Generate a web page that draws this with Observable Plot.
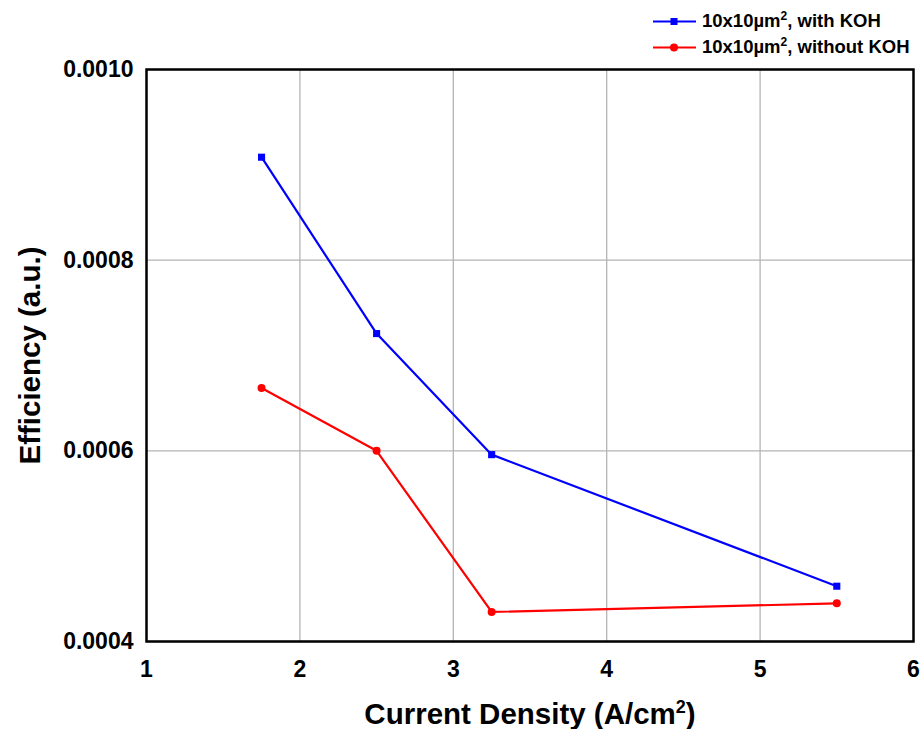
<!DOCTYPE html>
<html>
<head>
<meta charset="utf-8">
<script src="https://cdn.jsdelivr.net/npm/d3@7"></script>
<script src="https://cdn.jsdelivr.net/npm/@observablehq/plot@0.6"></script>
<style>
  html, body { margin: 0; padding: 0; background: #fff; }
  body { width: 920px; height: 729px; overflow: hidden; font-family: "Liberation Sans", Arial, sans-serif; }
  #legend { position: relative; height: 59px; width: 920px; }
  .leg-row { position: absolute; left: 652px; height: 22px; line-height: 22px; display: flex; align-items: center; font-weight: bold; font-size: 18.5px; color: #000; white-space: nowrap; }
  .leg-row svg { margin-right: 5px; }
  #chart svg [aria-label="x-axis label"] text,
  #chart svg [aria-label="y-axis label"] text { font-size: 29.5px; font-weight: bold; }
</style>
</head>
<body>
<div id="legend"></div>
<div id="chart"></div>
<script>
const xValues = [1.75, 2.5, 3.25, 5.5];
const withKOH = [0.000908, 0.000723, 0.000596, 0.000458];
const withoutKOH = [0.000666, 0.0006, 0.000431, 0.00044];
const seriesNames = ["10x10µm², with KOH", "10x10µm², without KOH"];
const seriesColors = ["#0000ff", "#ff0000"];
const xTicks = [1, 2, 3, 4, 5, 6];
const yTicks = [0.0004, 0.0006, 0.0008, 0.0010];
const xLabel = "Current Density (A/cm²)";
const yLabel = "Efficiency (a.u.)";

const dataA = xValues.map((x, i) => ({x, y: withKOH[i]}));
const dataB = xValues.map((x, i) => ({x, y: withoutKOH[i]}));

// legend
const legend = document.getElementById("legend");
seriesNames.forEach((name, i) => {
  const row = document.createElement("div");
  row.className = "leg-row";
  row.style.top = (i === 0 ? 10 : 36) + "px";
  const marker = i === 0
    ? `<rect x="18.5" y="3" width="7" height="7" fill="${seriesColors[i]}"/>`
    : `<circle cx="22" cy="6.5" r="4" fill="${seriesColors[i]}"/>`;
  row.innerHTML = `<svg width="45" height="13"><line x1="1" x2="44" y1="6.5" y2="6.5" stroke="${seriesColors[i]}" stroke-width="2.2"/>${marker}</svg><span>${name.replace("²", "<sup style='font-size:12px;vertical-align:7px;line-height:0'>2</sup>")}</span>`;
  legend.appendChild(row);
});

const chart = Plot.plot({
  width: 920,
  height: 670,
  marginTop: 10,
  marginLeft: 146,
  marginRight: 7,
  marginBottom: 88,
  style: {fontFamily: "'Liberation Sans', Arial, sans-serif", fontWeight: "bold", fontSize: "23px", color: "#000", background: "#fff", overflow: "visible"},
  x: {domain: [1, 6]},
  y: {domain: [0.0004, 0.0010]},
  marks: [
    Plot.gridX(xTicks, {stroke: "#b4b4b4", strokeOpacity: 1, strokeWidth: 1.3}),
    Plot.gridY(yTicks, {stroke: "#b4b4b4", strokeOpacity: 1, strokeWidth: 1.3}),
    Plot.line(dataA, {x: "x", y: "y", stroke: seriesColors[0], strokeWidth: 2.2}),
    Plot.dot(dataA, {x: "x", y: "y", symbol: "square", r: 4, fill: seriesColors[0], stroke: "none"}),
    Plot.line(dataB, {x: "x", y: "y", stroke: seriesColors[1], strokeWidth: 2.2}),
    Plot.dot(dataB, {x: "x", y: "y", symbol: "circle", r: 4, fill: seriesColors[1], stroke: "none"}),
    Plot.frame({stroke: "#000", strokeWidth: 2.5}),
    Plot.axisX(xTicks, {tickSize: 0, tickPadding: 19, fontSize: 23, tickFormat: d3.format("d"), label: xLabel, labelAnchor: "center", labelArrow: "none", labelOffset: 82}),
    Plot.axisY(yTicks, {tickSize: 0, tickPadding: 13, fontSize: 23, tickFormat: d3.format(".4f"), label: yLabel, labelAnchor: "center", labelArrow: "none", labelOffset: 127})
  ]
});
document.getElementById("chart").appendChild(chart);

// render the ² of the x-axis label as a true superscript
const xl = chart.querySelector('[aria-label="x-axis label"] text');
if (xl) {
  const parts = xLabel.split("²");
  xl.textContent = parts[0];
  const sup = document.createElementNS("http://www.w3.org/2000/svg", "tspan");
  sup.textContent = "2";
  sup.setAttribute("font-size", "18");
  sup.setAttribute("dy", "-11");
  xl.appendChild(sup);
  const rest = document.createElementNS("http://www.w3.org/2000/svg", "tspan");
  rest.textContent = parts[1];
  rest.setAttribute("dy", "11");
  xl.appendChild(rest);
}
</script>
</body>
</html>
